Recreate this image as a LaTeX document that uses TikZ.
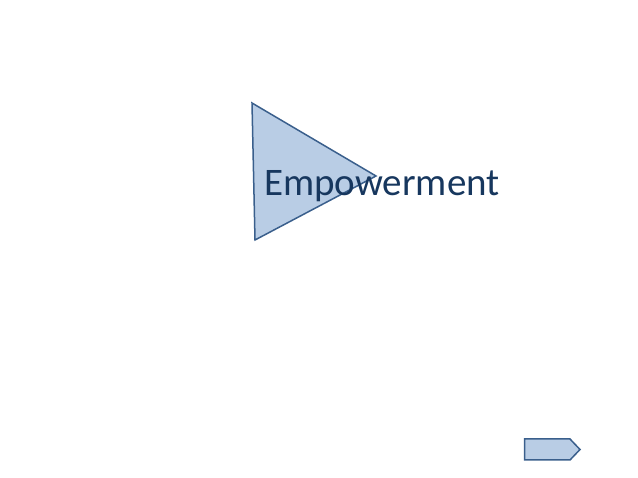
\documentclass[tikz,border=0pt]{standalone}
\usepackage{fontspec}
\setmainfont{Carlito}
\definecolor{shapefill}{HTML}{B9CDE5}
\definecolor{shapeline}{HTML}{3A5F8C}
\definecolor{wordblue}{HTML}{17375E}
\tikzset{
  blueshape/.style={fill=shapefill, draw=shapeline, line width=1.5pt, line join=miter},
  bigword/.style={text=wordblue, font=\fontsize{39}{44}\selectfont, inner sep=0pt, anchor=base west}
}
\begin{document}
\begin{tikzpicture}[x=1pt, y=-1pt]
    \useasboundingbox (0,0) rectangle (638,478);

    % play triangle
    \draw[blueshape] (252,103) -- (376,176) -- (255,240) -- cycle;

    \node[bigword] (word) at (264,196) {Empowerment};

    % small arrow button
    \draw[blueshape] (524.5,439) -- (570,439) -- (580,449.5) -- (570,460) -- (524.5,460) -- cycle;
\end{tikzpicture}
\end{document}
